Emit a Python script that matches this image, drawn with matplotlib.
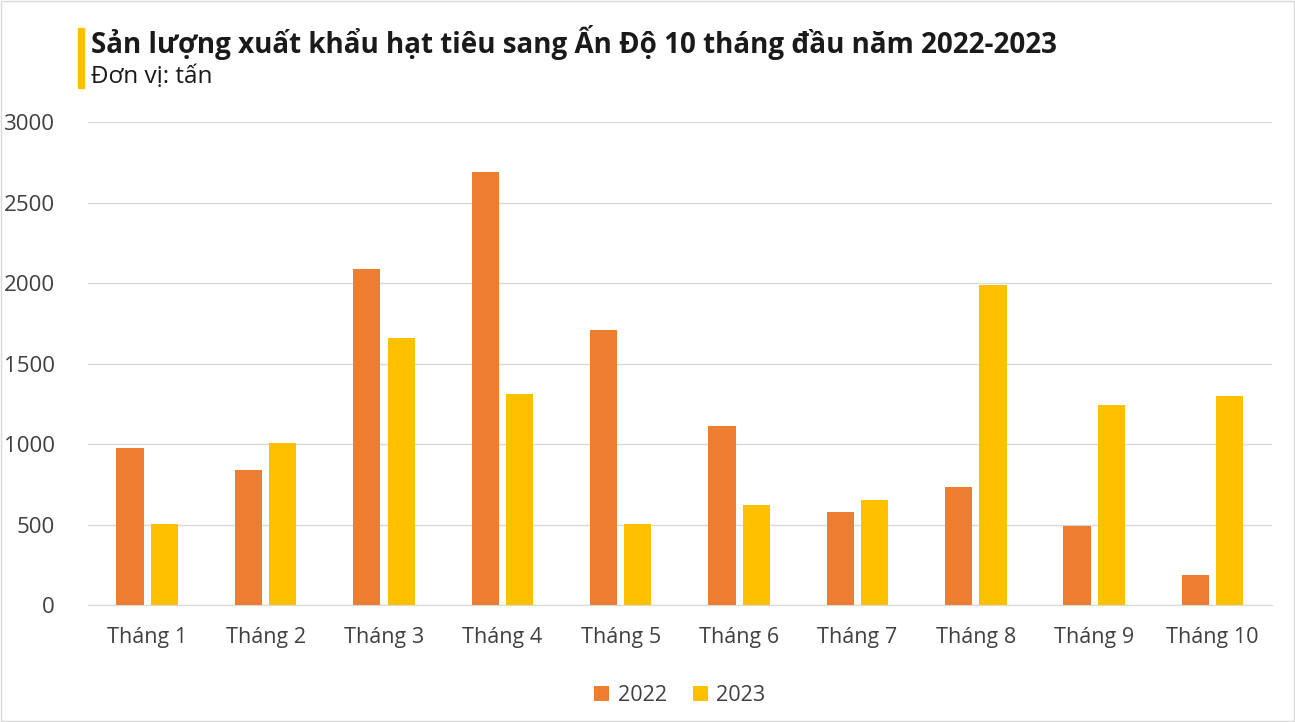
import matplotlib
matplotlib.use("Agg")
import matplotlib.pyplot as plt
import numpy as np

plt.rcParams["font.family"] = "Open Sans"

categories = ["Tháng 1", "Tháng 2", "Tháng 3", "Tháng 4", "Tháng 5",
              "Tháng 6", "Tháng 7", "Tháng 8", "Tháng 9", "Tháng 10"]
values_2022 = [975, 838, 2087, 2689, 1708, 1112, 578, 733, 491, 186]
values_2023 = [503, 1006, 1658, 1311, 503, 621, 652, 1988, 1242, 1298]
yticks = [0, 500, 1000, 1500, 2000, 2500, 3000]

fig = plt.figure(figsize=(12.95, 7.22), dpi=100)
ax = fig.add_axes([0.068, 0.162, 0.914, 0.669])
x = np.arange(len(categories))
w = 0.23
ax.bar(x - 0.145, values_2022, w, color="#ED7D31", label="2022", zorder=3)
ax.bar(x + 0.145, values_2023, w, color="#FFC000", label="2023", zorder=3)
ax.set_xlim(-0.5, len(categories) - 0.5)
ax.set_ylim(0, 3000)
ax.set_yticks(yticks)
ax.set_xticks(x)
ax.set_xticklabels(categories)
ax.tick_params(axis="x", length=0, labelsize=15.5, colors="#404040", pad=16)
ax.tick_params(axis="y", length=0, labelsize=16, colors="#404040", pad=24)
ax.grid(axis="y", color="#D9D9D9", linewidth=1, zorder=0)
for s in ["top", "right", "left"]:
    ax.spines[s].set_visible(False)
ax.spines["bottom"].set_color("#D9D9D9")

ax.legend(loc="upper center", bbox_to_anchor=(0.5, -0.125), ncol=2, frameon=False,
          fontsize=15.5, handlelength=0.7, handleheight=0.7, columnspacing=1.2,
          handletextpad=0.4, labelcolor="#404040")

fig.patches.append(plt.Rectangle((78 / 1295, 1 - 88 / 722), 6 / 1295, 60 / 722,
                                 transform=fig.transFigure, color="#FFC000"))
fig.text(91 / 1295, 1 - 43 / 722, "Sản lượng xuất khẩu hạt tiêu sang Ấn Độ 10 tháng đầu năm 2022-2023",
         fontsize=20, fontweight="bold", color="#1a1a1a", va="center")
fig.text(91 / 1295, 1 - 77 / 722, "Đơn vị: tấn", fontsize=17.5, color="#1a1a1a", va="center")
fig.patches.append(plt.Rectangle((0.001, 0.001), 0.998, 0.998, transform=fig.transFigure,
                                 fill=False, edgecolor="#D9D9D9", linewidth=1))
fig.savefig("out.png", dpi=100)
